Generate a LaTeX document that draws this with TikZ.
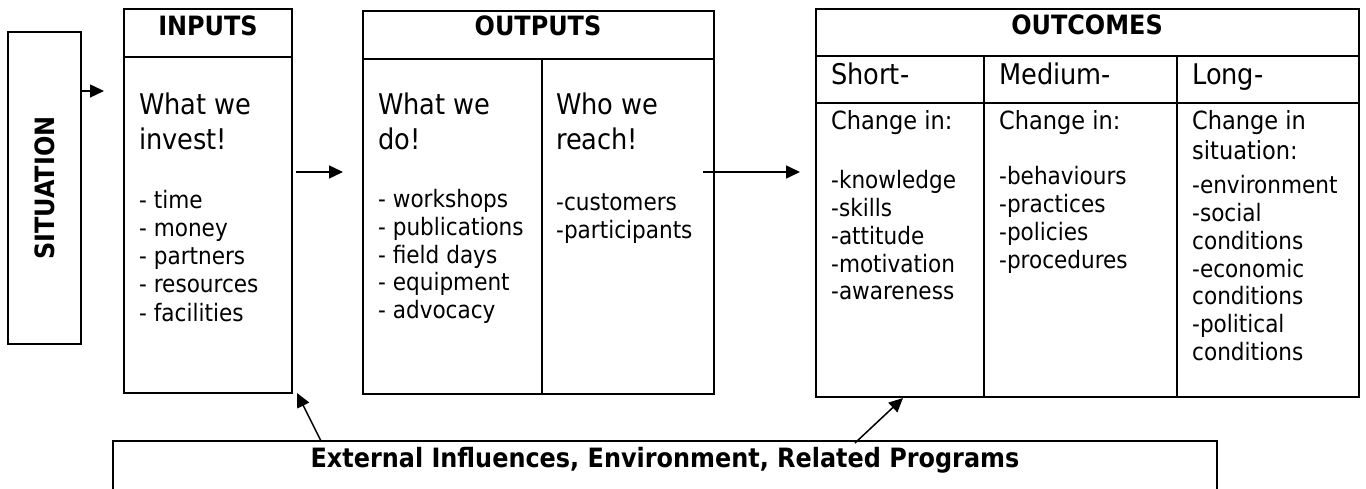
\documentclass[tikz,border=0pt]{standalone}
\usepackage{fontspec}
\setmainfont{DejaVu Sans Condensed}[BoldFont={DejaVu Sans Condensed Bold}]
\usetikzlibrary{arrows.meta,calc}

\tikzset{
  box/.style={draw, line width=2pt, rectangle, inner sep=0pt, outer sep=0pt, anchor=north west},
  rule/.style={line width=2pt},
  arr/.style={line width=1.5pt, -{Triangle[length=14pt,width=13pt]}},
  head/.style={font=\fontsize{26.6}{30}\selectfont\bfseries, anchor=base, inner sep=0pt},
  big/.style={font=\fontsize{28.5}{34}\selectfont, anchor=base west, inner sep=0pt},
  mid/.style={font=\fontsize{25}{30}\selectfont, anchor=base west, inner sep=0pt},
  item/.style={font=\fontsize{24}{28}\selectfont, anchor=base west, inner sep=0pt},
}

\begin{document}
\begin{tikzpicture}[x=1pt,y=-1pt]
\useasboundingbox (0,0) rectangle (1366,489);
\clip (0,0) rectangle (1366,489);
\fill[white] (0,0) rectangle (1366,489);

% --- situation ---
\node[box, minimum width=73pt, minimum height=312pt] (sit) at (8,32) {};
\node[head, anchor=center, rotate=90] (sit-title) at (sit.center) {SITUATION};

% --- inputs ---
\node[box, minimum width=168pt, minimum height=384pt] (inputs) at (124,9) {};
\draw[rule] ([yshift=-48pt]inputs.north west) -- ([yshift=-48pt]inputs.north east);
\node[head] (inputs-title) at (208,36) {INPUTS};
\node[big] (inputs-l1) at (139,115) {What we};
\node[big] (inputs-l2) at (139,150) {invest!};
\foreach \t [count=\i] in {time, money, partners, resources, facilities}
  \node[item] (in-\i) at (139,{209+28*(\i-1)}) {- \t};

% --- outputs ---
\node[box, minimum width=351pt, minimum height=383pt] (outputs) at (363,11) {};
\draw[rule] ([yshift=-48pt]outputs.north west) -- ([yshift=-48pt]outputs.north east);
\draw[rule] ([xshift=179pt,yshift=-48pt]outputs.north west) -- ([xshift=179pt]outputs.south west);
\node[head] (outputs-title) at (538,36) {OUTPUTS};
\node[big] (do-l1) at (378,115) {What we};
\node[big] (do-l2) at (378,150) {do!};
\foreach \t [count=\i] in {workshops, publications, field days, equipment, advocacy}
  \node[item] (do-\i) at (378,{208+27.6*(\i-1)}) {- \t};
\node[big] (reach-l1) at (556,115) {Who we};
\node[big] (reach-l2) at (556,150) {reach!};
\foreach \t [count=\i] in {customers, participants}
  \node[item] (reach-\i) at (556,{211+27.5*(\i-1)}) {-\t};

% --- outcomes ---
\node[box, minimum width=543pt, minimum height=388pt] (outcomes) at (816,9) {};
\draw[rule] ([yshift=-47pt]outcomes.north west) -- ([yshift=-47pt]outcomes.north east);
\draw[rule] ([yshift=-94pt]outcomes.north west) -- ([yshift=-94pt]outcomes.north east);
\draw[rule] ([xshift=168pt,yshift=-47pt]outcomes.north west) -- ([xshift=168pt]outcomes.south west);
\draw[rule] ([xshift=361pt,yshift=-47pt]outcomes.north west) -- ([xshift=361pt]outcomes.south west);
\node[head] (outcomes-title) at (1087,35) {OUTCOMES};

\node[big] (short-h) at (831,85) {Short-};
\node[mid] (short-c) at (831,130) {Change in:};
\foreach \t [count=\i] in {knowledge, skills, attitude, motivation, awareness}
  \node[item] (short-\i) at (831,{189+27.7*(\i-1)}) {-\t};

\node[big] (medium-h) at (999,85) {Medium-};
\node[mid] (medium-c) at (999,130) {Change in:};
\foreach \t [count=\i] in {behaviours, practices, policies, procedures}
  \node[item] (medium-\i) at (999,{185+27.7*(\i-1)}) {-\t};

\node[big] (long-h) at (1192,85) {Long-};
\node[mid] (long-c1) at (1192,130) {Change in};
\node[mid] (long-c2) at (1192,160) {situation:};
\foreach \t [count=\i] in {-environment, -social, conditions, -economic, conditions, -political, conditions}
  \node[item] (long-\i) at (1192,{194+27.7*(\i-1)}) {\t};

% --- external influences ---
\node[box, minimum width=1104pt, minimum height=100pt] (ext) at (113,441) {};
\node[head] (ext-title) at (665,467) {External Influences, Environment, Related Programs};

% --- connectors ---
\draw[arr] ([yshift=-59pt]sit.north east) -- ++(23,0);
\draw[arr] ([shift={(4pt,29pt)}]inputs.east) -- ([shift={(-20pt,30.5pt)}]outputs.west);
\draw[arr] ([shift={(-11pt,30.5pt)}]outputs.east) -- ([shift={(-16pt,31pt)}]outcomes.west);
\draw[arr] ([xshift=208pt]ext.north west) -- ([xshift=5pt]inputs.south east);
\draw[arr] ([shift={(742pt,-2pt)}]ext.north west) -- ([shift={(87pt,-1pt)}]outcomes.south west);
\end{tikzpicture}
\end{document}
